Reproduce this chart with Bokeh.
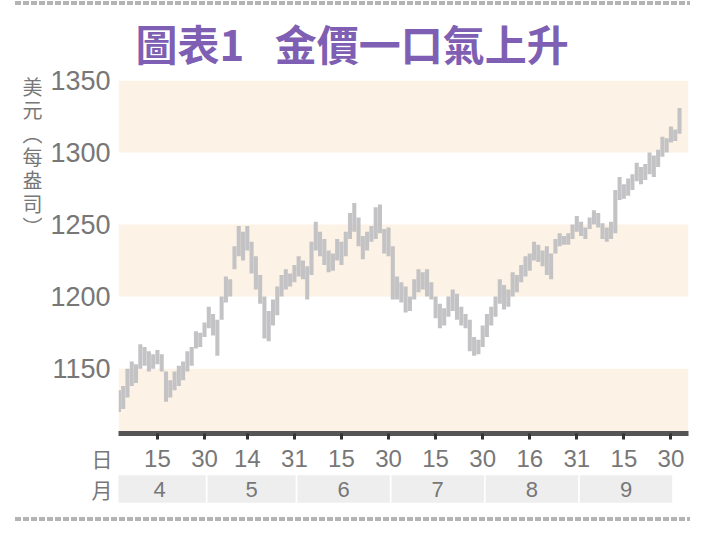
from bokeh.plotting import figure
from bokeh.models import FixedTicker, LinearAxis, Title, Div
from bokeh.layouts import column
from bokeh.core.properties import value
from bokeh.embed import file_html
from bokeh.resources import INLINE

# trading day number (Apr 1 2010 = 0) with daily high / low, USD per ounce
day = list(range(1, 133))
high = [1135, 1138, 1150, 1155, 1153, 1167, 1165, 1162, 1160, 1163,
        1160, 1148, 1142, 1148, 1152, 1155, 1162, 1165, 1176, 1175,
        1182, 1193, 1188, 1184, 1200, 1214, 1212, 1235, 1249, 1245,
        1249, 1238, 1228, 1215, 1200, 1190, 1198, 1207, 1215, 1219,
        1216, 1222, 1228, 1225, 1221, 1238, 1252, 1245, 1240, 1232,
        1230, 1240, 1238, 1245, 1258, 1265, 1255, 1242, 1245, 1249,
        1262, 1264, 1247, 1248, 1235, 1214, 1210, 1207, 1200, 1212,
        1219, 1217, 1219, 1210, 1200, 1195, 1192, 1200, 1205, 1202,
        1193, 1188, 1184, 1172, 1170, 1180, 1188, 1193, 1200, 1212,
        1208, 1205, 1217, 1215, 1222, 1228, 1230, 1238, 1236, 1232,
        1235, 1230, 1240, 1244, 1242, 1244, 1250, 1256, 1252, 1248,
        1255, 1260, 1258, 1251, 1248, 1252, 1274, 1283, 1278, 1282,
        1285, 1293, 1290, 1292, 1300, 1298, 1302, 1311, 1310, 1318,
        1316, 1331]
low = [1120, 1122, 1130, 1138, 1140, 1150, 1152, 1148, 1150, 1153,
       1148, 1127, 1130, 1135, 1138, 1142, 1148, 1152, 1164, 1165,
       1172, 1178, 1173, 1159, 1184, 1196, 1200, 1219, 1228, 1225,
       1232, 1216, 1205, 1195, 1171, 1169, 1180, 1187, 1200, 1205,
       1207, 1210, 1214, 1212, 1198, 1215, 1232, 1228, 1222, 1217,
       1218, 1225, 1222, 1228, 1240, 1245, 1235, 1226, 1232, 1238,
       1240, 1244, 1230, 1228, 1198, 1198, 1196, 1189, 1190, 1198,
       1203, 1205, 1200, 1198, 1185, 1178, 1180, 1186, 1190, 1184,
       1180, 1178, 1162, 1159, 1160, 1165, 1172, 1180, 1186, 1195,
       1191, 1193, 1200, 1203, 1210, 1214, 1218, 1225, 1224, 1221,
       1215, 1212, 1230, 1235, 1236, 1236, 1240, 1245, 1242, 1240,
       1247, 1250, 1248, 1240, 1238, 1240, 1244, 1267, 1268, 1270,
       1274, 1280, 1278, 1281, 1285, 1283, 1290, 1297, 1300, 1307,
       1308, 1313]

tick_days = [10, 21, 31, 42, 53, 64, 75, 86, 97, 108, 119, 130]
tick_labels = ["15", "30", "14", "31", "15", "30", "15", "30", "16", "31", "15", "30"]

months = ["4", "5", "6", "7", "8", "9"]
month_first = [0, 22, 43, 65, 87, 109]
month_last = [21, 42, 64, 86, 108, 130]

band_low = [1105, 1200, 1300]
band_high = [1150, 1250, 1350]
y_ticks = [1150, 1200, 1250, 1300, 1350]
unit_chars = ["美", "元", "︵", "每", "盎", "司", "︶"]

CJK = "Noto Sans CJK TC"
NUM = "Liberation Sans"
GREY = "#777777"
W = 693
DASH = "repeating-linear-gradient(90deg,#b4b4b4 0 6px,transparent 6px 8px)"

top_rule = Div(text="", width=675, height=4, margin=(1, 0, 1, 15),
               styles={"background": DASH})

p = figure(width=W, height=436, x_range=(0.9, 134.1), y_range=(1105, 1350),
           output_backend="svg", toolbar_location=None,
           min_border_left=118, min_border_right=5,
           min_border_top=72, min_border_bottom=9)
# en space + space: plain repeated spaces collapse in the svg text
p.title = Title(text="圖表1\u2002 金價一口氣上升", text_font=CJK, text_font_size="42px",
                text_font_style="bold", text_color="#7e5fb3", align="left", offset=17,
                vertical_align="top", standoff=11)
p.outline_line_color = None
p.grid.visible = False

p.quad(left=p.x_range.start, right=p.x_range.end, bottom=band_low, top=band_high,
       fill_color="#fdf2e6", line_color=None)
p.vbar(x=day, bottom=low, top=high, width=0.95, fill_color="#bcbcc0", fill_alpha=0.9,
       line_color=None)

p.xaxis.ticker = FixedTicker(ticks=tick_days)
p.xaxis.minor_tick_line_color = None
p.xaxis.axis_line_width = 5
p.xaxis.axis_line_color = "#555555"
p.xaxis.major_tick_in = 0
p.xaxis.major_tick_out = 6
p.xaxis.major_tick_line_width = 3
p.xaxis.major_tick_line_color = "#333333"
p.xaxis.major_label_standoff = 0
p.xaxis.major_label_text_font_size = "1px"
p.xaxis.major_label_text_color = None  # day labels are drawn in the row below

p.yaxis.ticker = FixedTicker(ticks=y_ticks)
p.yaxis.minor_tick_line_color = None
p.yaxis.major_tick_line_color = None
p.yaxis.major_tick_out = 0
p.yaxis.axis_line_color = None
p.yaxis.major_label_standoff = 8
p.yaxis.major_label_text_font = NUM
p.yaxis.major_label_text_font_size = "27px"
p.yaxis.major_label_text_color = GREY

# stacked vertical unit label, one character per line
unit_y = [1350 - (6 + 23.5 * k) / 1.45 for k in range(len(unit_chars))]
unit_axis = LinearAxis(ticker=FixedTicker(ticks=unit_y),
                       major_label_overrides=dict(zip(unit_y, unit_chars)),
                       axis_line_color=None, major_tick_line_color=None, major_tick_out=0,
                       minor_tick_line_color=None, major_label_standoff=5,
                       major_label_text_font=CJK, major_label_text_font_size="20px",
                       major_label_text_color=GREY)
p.add_layout(unit_axis, "left")

# day row and month row under the axis
pm = figure(width=W, height=62, x_range=p.x_range, y_range=(0, 2),
            output_backend="svg", toolbar_location=None,
            min_border_left=118, min_border_right=5, min_border_top=0, min_border_bottom=0)
pm.xaxis.visible = False
pm.grid.visible = False
pm.outline_line_color = None
pm.yaxis.ticker = FixedTicker(ticks=[0.5, 1.5])
pm.yaxis.major_label_overrides = {0.5: "月", 1.5: "日"}
pm.yaxis.axis_line_color = None
pm.yaxis.major_tick_line_color = None
pm.yaxis.major_tick_out = 0
pm.yaxis.minor_tick_line_color = None
pm.yaxis.major_label_standoff = 6
pm.yaxis.major_label_text_font = CJK
pm.yaxis.major_label_text_font_size = "21px"
pm.yaxis.major_label_text_color = GREY

pm.text(x=tick_days, y=1.5, text=tick_labels, text_font=value(NUM),
        text_font_size="24px", text_color=GREY, text_align="center",
        text_baseline="middle")
pm.quad(left=[m - 0.3 for m in month_first], right=[m + 0.3 for m in month_last],
        bottom=0.06, top=0.94, fill_color="#eeeeee", line_color=None)
pm.text(x=[(a + b) / 2 for a, b in zip(month_first, month_last)], y=0.5, text=months,
        text_font=value(NUM), text_font_size="22px", text_color=GREY,
        text_align="center", text_baseline="middle")

bottom_rule = Div(text="", width=675, height=4, margin=(13, 0, 0, 15),
                  styles={"background": DASH})

layout = column(top_rule, p, pm, bottom_rule, spacing=0)
open("out.html", "w").write(file_html(layout, INLINE))
